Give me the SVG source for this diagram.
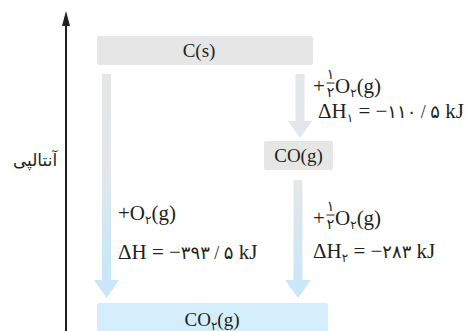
<svg xmlns="http://www.w3.org/2000/svg" width="466" height="331" viewBox="0 0 466 331">
<style>
.t{font-family:"Liberation Serif","DejaVu Serif","DejaVu Sans",serif;font-size:19px;fill:#231f20}
.l{font-size:21px}
.s{font-size:12px}
.d{font-size:18px}
.f{font-size:14px}
.fa{font-family:"DejaVu Sans",sans-serif;font-size:17px;fill:#231f20}
</style>
<defs>
<linearGradient id="g1" gradientUnits="userSpaceOnUse" x1="0" y1="74" x2="0" y2="270">
<stop offset="0" stop-color="#e6e6e6"/><stop offset="0.45" stop-color="#e2e7ea"/><stop offset="1" stop-color="#c9e7f9"/>
</linearGradient>
<linearGradient id="g2" gradientUnits="userSpaceOnUse" x1="0" y1="180" x2="0" y2="285">
<stop offset="0" stop-color="#e6e6e6"/><stop offset="1" stop-color="#c9e7f9"/>
</linearGradient>
<linearGradient id="g3" gradientUnits="userSpaceOnUse" x1="0" y1="74" x2="0" y2="138">
<stop offset="0" stop-color="#e6e6e6"/><stop offset="1" stop-color="#dfe7ee"/>
</linearGradient>
</defs>
<g id="axis">
<line x1="66" y1="331" x2="66" y2="24" stroke="#231f20" stroke-width="2"/>
<polygon points="66,11 62,26 70,26" fill="#231f20"/>
<text class="fa" x="35" y="166" text-anchor="middle">آنتالپی</text>
</g>
<g id="connectors">
<polygon points="102,74 111,74 111,280 119,280 106.5,298 94,280 102,280" fill="url(#g1)"/>
<polygon points="295.5,74 304.5,74 304.5,121 312,121 300,138 288,121 295.5,121" fill="url(#g3)"/>
<polygon points="293.5,180 302.5,180 302.5,280 311,280 298,298 285,280 293.5,280" fill="url(#g2)"/>
</g>
<g id="node-cs">
<rect x="97" y="36" width="216" height="29" rx="2" fill="#e6e6e6"/>
<text class="t" x="199" y="57" text-anchor="middle">C(s)</text>
</g>
<g id="node-co">
<rect x="264" y="141" width="69" height="29" rx="2" fill="#e6e6e6"/>
<text class="t" x="298.5" y="162" text-anchor="middle">CO(g)</text>
</g>
<g id="node-co2">
<rect x="97" y="303" width="231" height="32" rx="2" fill="#d5eefb"/>
<text class="t" x="212" y="326" text-anchor="middle">CO<tspan class="s" dy="4">۲</tspan><tspan dy="-4">(g)</tspan></text>
</g>
<g id="label-1">
<text class="t l" x="313" y="93">+</text>
<text class="t f" x="330.5" y="79" text-anchor="middle">۱</text>
<line x1="326.5" y1="83" x2="334.5" y2="83" stroke="#231f20" stroke-width="1"/>
<text class="t f" x="330.5" y="96.5" text-anchor="middle">۲</text>
<text class="t l" x="335" y="93">O<tspan class="s" dy="4">۲</tspan><tspan dy="-4">(g)</tspan></text>
<text class="t l" x="318" y="118">ΔH<tspan class="s" dy="4">۱</tspan><tspan dy="-4"> = −</tspan><tspan class="d">۱۱۰ / ۵</tspan> kJ</text>
</g>
<g id="label-2">
<text class="t l" x="118" y="220">+O<tspan class="s" dy="4">۲</tspan><tspan dy="-4">(g)</tspan></text>
<text class="t l" x="118" y="259">ΔH = −<tspan class="d">۳۹۳ / ۵</tspan> kJ</text>
</g>
<g id="label-3">
<text class="t l" x="313" y="225">+</text>
<text class="t f" x="330.5" y="211" text-anchor="middle">۱</text>
<line x1="326.5" y1="215" x2="334.5" y2="215" stroke="#231f20" stroke-width="1"/>
<text class="t f" x="330.5" y="228.5" text-anchor="middle">۲</text>
<text class="t l" x="335" y="225">O<tspan class="s" dy="4">۲</tspan><tspan dy="-4">(g)</tspan></text>
<text class="t l" x="313" y="258">ΔH<tspan class="s" dy="4">۲</tspan><tspan dy="-4"> = −</tspan><tspan class="d">۲۸۳</tspan> kJ</text>
</g>
</svg>
